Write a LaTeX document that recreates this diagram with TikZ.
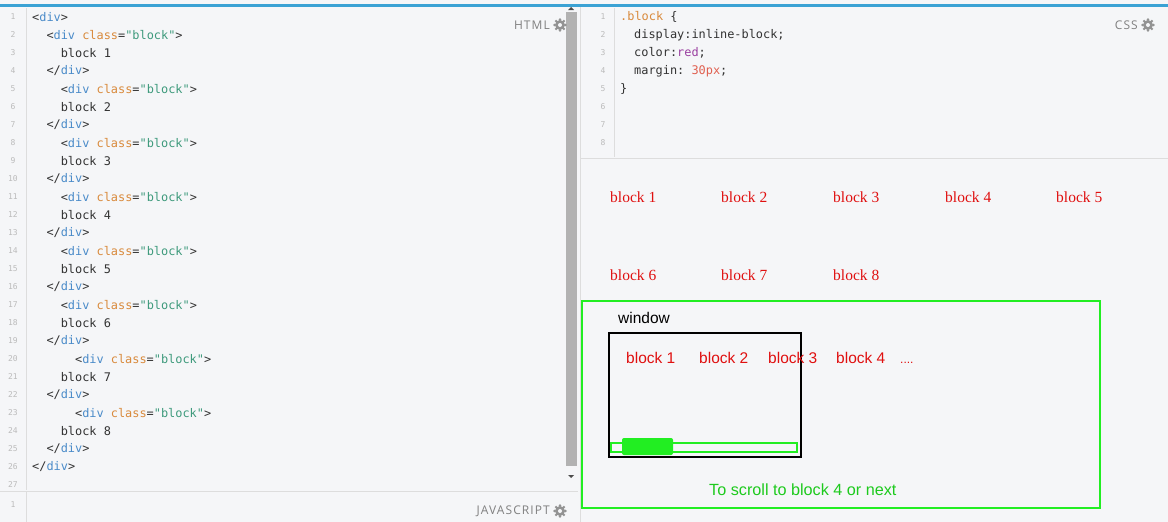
\documentclass[tikz,border=0pt]{standalone}
\usepackage{fontspec}
\setmainfont{Liberation Serif}
\setsansfont{Liberation Sans}
\setmonofont{DejaVu Sans Mono}
\newfontfamily\labfont[LetterSpace=9]{Open Sans}
\definecolor{bg}{HTML}{F5F6F8}
\definecolor{tagc}{HTML}{4A8BC9}
\definecolor{attc}{HTML}{D98A3C}
\definecolor{strc}{HTML}{3E9A7C}
\definecolor{txtc}{HTML}{333333}
\definecolor{numc}{HTML}{BBBBBB}
\definecolor{linec}{HTML}{DDDDDD}
\definecolor{grn}{HTML}{22EE22}
\definecolor{redc}{HTML}{E01010}
\definecolor{purp}{HTML}{9A3FA0}
\definecolor{pxc}{HTML}{E06050}
\begin{document}
\begin{tikzpicture}[x=1pt,y=-1pt,
  code/.style={anchor=west,inner sep=0pt,font=\ttfamily\fontsize{11.9}{12}\selectfont,text=txtc},
  num/.style={anchor=center,inner sep=0pt,font=\ttfamily\fontsize{8}{9}\selectfont,text=numc},
  lab/.style={anchor=east,inner sep=0pt,font=\labfont\fontsize{12}{13}\selectfont,text=gray},
  outb/.style={anchor=west,inner sep=0pt,font=\rmfamily\fontsize{15.5}{16}\selectfont,text=redc},
  winb/.style={anchor=west,inner sep=0pt,font=\sffamily\fontsize{15.5}{16}\selectfont,text=redc},
  gear/.style={fill=gray!85}]
\useasboundingbox (0,0) rectangle (1168,522);
\fill[bg] (0,0) rectangle (1168,522);
\fill[tagc!80!cyan] (0,4) rectangle (1168,7);
% left pane
\draw[linec] (26,8) -- (26,490);
\draw[linec] (0,491) -- (578,491);
\draw[linec] (26,492) -- (26,522);
\fill[gray!60] (566,12) rectangle (577,466);
\fill[black!70] (571,478) -- (568,475) -- (574,475) -- cycle;
\fill[black!70] (571,7) -- (568,10) -- (574,10) -- cycle;
\draw[linec] (580,7) -- (580,522);
\foreach \i in {1,...,27}{ \node[num] (n\i) at (13,{17+18*(\i-1)}) {\i}; }
\node[num] (js1) at (13,505) {1};
\newcommand\ch{7.15}
\newcommand\opendiv[2]{\node[code] (#1) at ({32+\ch*#2},{17+18*(#1-1)}) {\textcolor{txtc}{<}\textcolor{tagc}{div} \textcolor{attc}{class}\textcolor{txtc}{=}\textcolor{strc}{"block"}\textcolor{txtc}{>}};}
\newcommand\closediv[2]{\node[code] (c#1) at ({32+\ch*#2},{17+18*(#1-1)}) {\textcolor{txtc}{</}\textcolor{tagc}{div}\textcolor{txtc}{>}};}
\newcommand\blk[3]{\node[code] (b#1) at ({32+\ch*#2},{17+18*(#1-1)}) {block #3};}
\newcommand\gearat[1]{\fill[gear] (#1) circle (5); \foreach \a in {0,45,...,315}{\fill[gear] (#1) ++(\a:5.5) circle (1.4);} \fill[bg] (#1) circle (2);}
\node[code] (l1) at (32,17) {<\textcolor{tagc}{div}>};
\opendiv{2}{2}\blk{3}{4}{1}\closediv{4}{2}
\opendiv{5}{4}\blk{6}{4}{2}\closediv{7}{2}
\opendiv{8}{4}\blk{9}{4}{3}\closediv{10}{2}
\opendiv{11}{4}\blk{12}{4}{4}\closediv{13}{2}
\opendiv{14}{4}\blk{15}{4}{5}\closediv{16}{2}
\opendiv{17}{4}\blk{18}{4}{6}\closediv{19}{2}
\opendiv{20}{6}\blk{21}{4}{7}\closediv{22}{2}
\opendiv{23}{6}\blk{24}{4}{8}\closediv{25}{2}
\closediv{26}{0}
\node[lab] (html) at (550,25) {HTML};
\gearat{560,25}
\node[lab] (js) at (550,511) {JAVASCRIPT};
\gearat{560,511}
% css pane
\draw[linec] (614,8) -- (614,157);
\draw[linec] (580,158) -- (1168,158);
\foreach \i in {1,...,8}{ \node[num] (m\i) at (603,{17+18*(\i-1)}) {\i}; }
\node[code] (s1) at (620,17) {\textcolor{attc}{.block} \{};
\node[code] (s2) at (634,35) {display:inline-block;};
\node[code] (s3) at (634,53) {color:\textcolor{purp}{red};};
\node[code] (s4) at (634,71) {margin: \textcolor{pxc}{30px};};
\node[code] (s5) at (620,89) {\}};
\node[lab] (css) at (1138,25) {CSS};
\gearat{1148,25}
% output
\node[outb] (o1) at (610,197) {block 1};
\node[outb] (o2) at (721,197) {block 2};
\node[outb] (o3) at (833,197) {block 3};
\node[outb] (o4) at (945,197) {block 4};
\node[outb] (o5) at (1056,197) {block 5};
\node[outb] (o6) at (610,275) {block 6};
\node[outb] (o7) at (721,275) {block 7};
\node[outb] (o8) at (833,275) {block 8};
\draw[grn,line width=2.2pt] (582,301) rectangle (1100,508);
\node[anchor=west,inner sep=0pt,font=\sffamily\fontsize{15.5}{16}\selectfont] (win) at (618,318) {window};
\draw[black,line width=1.6pt] (609,333) rectangle (801,457);
\node[winb] (w1) at (626,358) {block 1};
\node[winb] (w2) at (699,358) {block 2};
\node[winb] (w3) at (768,358) {block 3};
\node[winb] (w4) at (836,358) {block 4};
\node[winb,anchor=base west] (w5) at (900,363) {\fontsize{12}{12}\selectfont ....};
\draw[grn,line width=1.6pt] (611,443) rectangle (797,452);
\fill[grn,rounded corners=2pt] (622,438) rectangle (673,455);
\node[anchor=west,inner sep=0pt,font=\sffamily\fontsize{16.2}{17}\selectfont,text=grn!85!black] (note) at (709,490) {To scroll to block 4 or next};
\end{tikzpicture}
\end{document}
